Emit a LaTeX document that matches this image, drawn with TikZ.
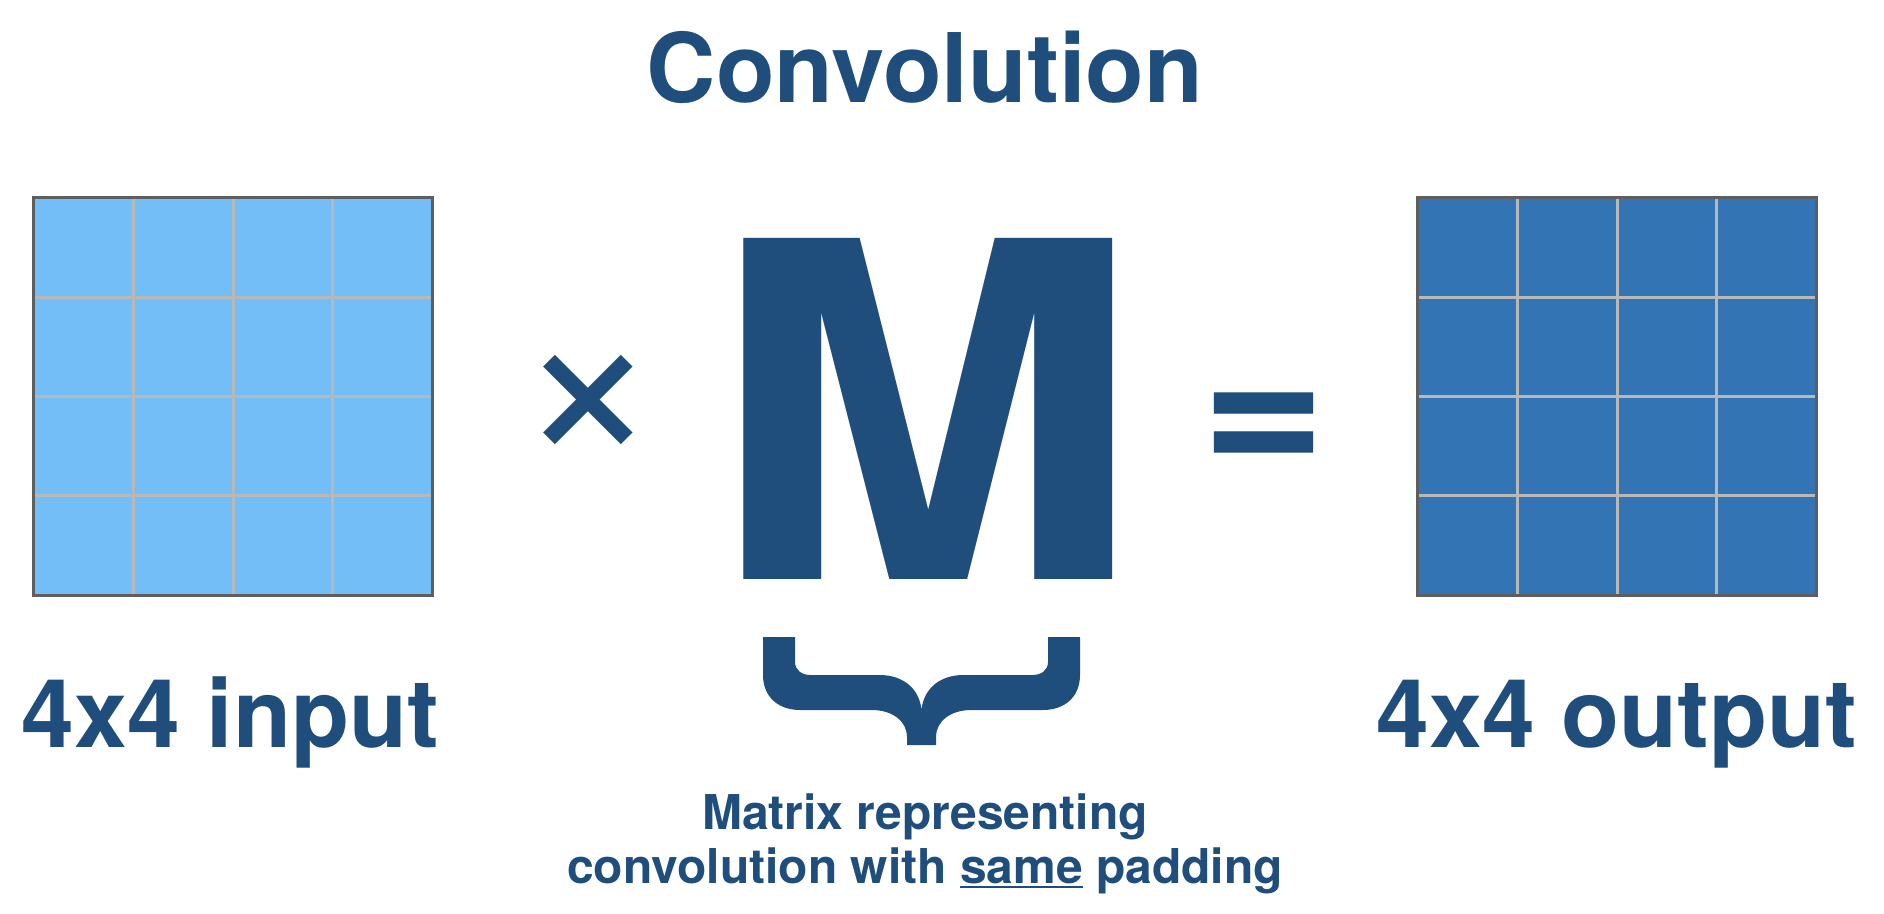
\documentclass[tikz,border=0pt]{standalone}
\usepackage{fontspec}
\setmainfont{TeX Gyre Heros}
\usepackage{graphicx}
\usetikzlibrary{calc}
\definecolor{navyM}{HTML}{1F4E7D}
\definecolor{inblue}{HTML}{74BEF8}
\definecolor{outblue}{HTML}{3374B5}
\definecolor{cellline}{HTML}{B8B8B8}
\definecolor{framegray}{HTML}{5E5E5E}
\newcommand{\ulword}[1]{\setbox0\hbox{#1}\rlap{\rule[-2.6pt]{\wd0}{1.1pt}}\box0\relax}

\begin{document}
\begin{tikzpicture}[x=0.5pt,y=-0.5pt,
  gridbox/.style={rectangle,inner sep=0pt,minimum width=199pt,minimum height=198.5pt},
  gridline/.style={draw=cellline,line width=1.5pt},
  gridframe/.style={draw=framegray,line width=1.8pt},
  txt/.style={text=navyM,inner sep=0pt,anchor=base,font=\bfseries}
]
\useasboundingbox (0,0) rectangle (1884,914);
\node[txt,font=\bfseries\fontsize{48}{48}\selectfont] (title) at (925,103) {Convolution};
\node[gridbox,fill=inblue] (inp) at (233,396.5) {};
\node[gridbox,fill=outblue] (outp) at (1617,396.5) {};
\foreach \g in {inp,outp}{
  \foreach \k in {1,2,3}{
    \draw[gridline] ($(\g.north west)!\k/4!(\g.north east)$) -- ($(\g.south west)!\k/4!(\g.south east)$);
    \draw[gridline] ($(\g.north west)!\k/4!(\g.south west)$) -- ($(\g.north east)!\k/4!(\g.south east)$);
  }
  \draw[gridframe] (\g.north west) rectangle (\g.south east);
}
\node[txt,font=\fontsize{123}{123}\selectfont] (times) at (588,461) {×};
\node[txt,font=\bfseries\fontsize{234}{234}\selectfont] (M) at (926,579) {\scalebox{1.11}[1]{M}};
\node[txt,font=\bfseries\fontsize{107}{107}\selectfont] (equals) at (1263.5,476.5) {=};
\node[txt,font=\bfseries\fontsize{47.5}{47.5}\selectfont] (inlabel) at (230.5,747) {4x4 input};
\node[txt,font=\bfseries\fontsize{47.5}{47.5}\selectfont] (outlabel) at (1617,747) {4x4 output};
\fill[navyM,shift={(921.5,637)}] (-158.5,0) -- (-158.5,38)
  .. controls (-158.5,60) and (-143,73) .. (-121.5,73) -- (-50,73)
  .. controls (-28,73) and (-14.5,85) .. (-14.5,100) -- (-14.5,108) -- (14.5,108) -- (14.5,100)
  .. controls (14.5,85) and (28,73) .. (50,73) -- (121.5,73)
  .. controls (143,73) and (158.5,60) .. (158.5,38) -- (158.5,0) -- (126.5,0) -- (126.5,25)
  .. controls (126.5,33) and (120,38) .. (111,38) -- (42,38)
  .. controls (18,38) and (2,52) .. (0,73)
  .. controls (-2,52) and (-18,38) .. (-42,38) -- (-111,38)
  .. controls (-120,38) and (-126.5,33) .. (-126.5,25) -- (-126.5,0) -- cycle;
\node[txt,font=\bfseries\fontsize{24}{28}\selectfont] (cap1) at (925,829) {Matrix representing};
\node[txt,font=\bfseries\fontsize{24}{28}\selectfont] (cap2) at (925,883) {convolution with \ulword{same} padding};
\end{tikzpicture}
\end{document}
